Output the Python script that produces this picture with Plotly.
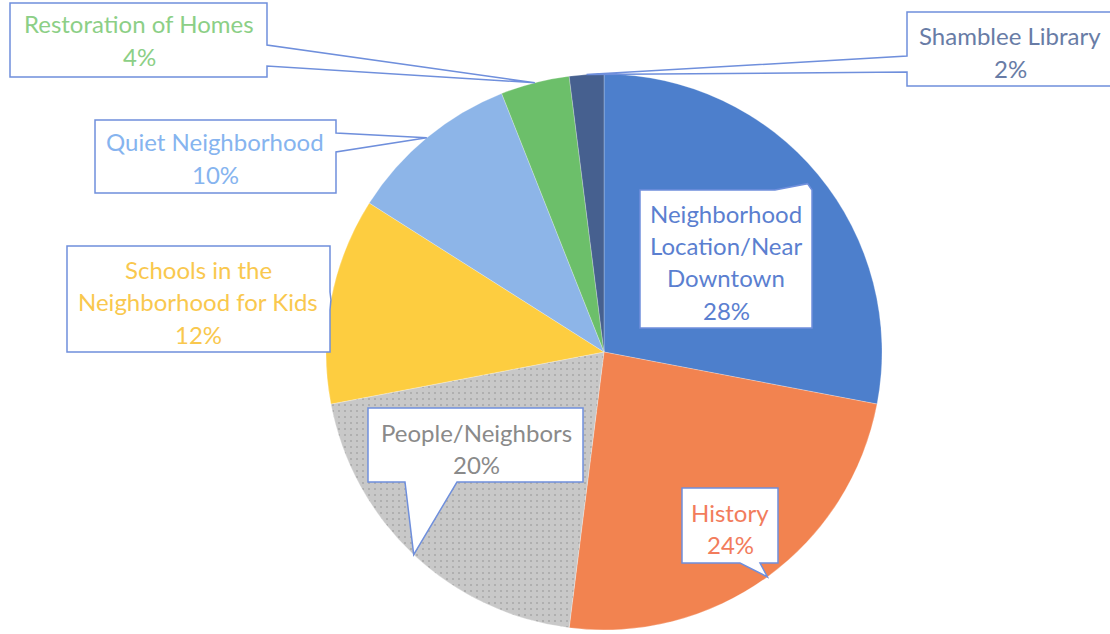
import math
import plotly.graph_objects as go

# ---- data ----
categories = ["Neighborhood Location/Near Downtown", "History", "People/Neighbors",
              "Schools in the Neighborhood for Kids", "Quiet Neighborhood",
              "Restoration of Homes", "Shamblee Library"]
values = [28, 24, 20, 12, 10, 4, 2]
label_lines = [["Neighborhood", "Location/Near", "Downtown"], ["History"], ["People/Neighbors"],
               ["Schools in the", "Neighborhood for Kids"], ["Quiet Neighborhood"],
               ["Restoration of Homes"], ["Shamblee Library"]]
slice_colors = ["#4d7fcc", "#f28350", "#c8c8c8", "#fdcd40", "#8db5e8", "#6cbf6a", "#46608f"]
text_colors = ["#5b7fd0", "#f27c5c", "#8a8a8a", "#f9c84e", "#86b4ef", "#8ccf86", "#687ca6"]

# ---- layout geometry (pixels) ----
W, H = 1110, 634
CX, CY, R = 604, 352, 278
FONT = "Lato"
FS = 24
LINE = 32.5
BORDER = "#6f8fdc"

def px(x):
    return x / W

def py(y):
    return 1 - y / H

# callout: box (x0,y0,x1,y1), text center x, first line y, side of tail, tail base (a,b), tip radius factor
callouts = [
    dict(box=(640, 190, 812, 328), tx=726, ty=213, side="top", base=(775, 812), rf=0.95),
    dict(box=(682, 488, 778, 563), tx=730, ty=512, side="bottom", base=(740, 760), rf=1.0),
    dict(box=(368, 408, 583, 482), tx=476, ty=432, side="bottom", base=(405, 457), rf=1.0),
    dict(box=(67, 246, 330, 352), tx=198, ty=269, side="right", base=(292, 310), rf=1.0),
    dict(box=(95, 120, 336, 193), tx=215, ty=142, side="right", base=(133, 152), rf=1.0),
    dict(box=(10, 3, 267, 77), tx=139, ty=24, side="right", base=(45, 66), rf=1.0),
    dict(box=(907, 12, 1114, 86), tx=1010, ty=36, side="left", base=(56, 72), rf=1.0),
]

fig = go.Figure()
fig.add_trace(go.Pie(
    labels=categories, values=values, sort=False, direction="clockwise", rotation=0,
    textinfo="none", hoverinfo="label+percent", showlegend=False,
    marker=dict(colors=slice_colors, line=dict(color="rgba(255,255,255,0.5)", width=0.5),
                pattern=dict(shape=["", "", ".", "", "", "", ""], fgcolor="#a9a9a9",
                             bgcolor=slice_colors, size=6, solidity=0.1)),
    domain=dict(x=[px(CX - R), px(CX + R)], y=[py(CY + R), py(CY - R)]),
))

total = sum(values)
shapes = []
annotations = []
cum = 0
for i, v in enumerate(values):
    mid = (cum + v / 2) / total * 2 * math.pi
    cum += v
    c = callouts[i]
    tipx = CX + R * c["rf"] * math.sin(mid)
    tipy = CY - R * c["rf"] * math.cos(mid)
    x0, y0, x1, y1 = c["box"]
    a, b = c["base"]
    if c["side"] == "right":
        pts = [(x0, y0), (x1, y0), (x1, a), (tipx, tipy), (x1, b), (x1, y1), (x0, y1)]
    elif c["side"] == "left":
        pts = [(x0, y0), (x1, y0), (x1, y1), (x0, y1), (x0, b), (tipx, tipy), (x0, a)]
    elif c["side"] == "top":
        pts = [(x0, y0), (a, y0), (tipx, tipy), (b, y0), (x1, y0), (x1, y1), (x0, y1)]
    else:
        pts = [(x0, y0), (x1, y0), (x1, y1), (b, y1), (tipx, tipy), (a, y1), (x0, y1)]
    path = "M " + " L ".join(f"{px(x):.5f},{py(y):.5f}" for x, y in pts) + " Z"
    shapes.append(dict(type="path", xref="paper", yref="paper", path=path,
                       fillcolor="white", line=dict(color=BORDER, width=1.5), layer="above"))
    lines = label_lines[i] + [f"{v}%"]
    for k, t in enumerate(lines):
        annotations.append(dict(x=px(c["tx"]), y=py(c["ty"] + k * LINE), xref="paper", yref="paper",
                                text=t, showarrow=False, xanchor="center", yanchor="middle",
                                font=dict(family=FONT, size=FS, color=text_colors[i])))

fig.update_layout(
    width=W, height=H, margin=dict(l=0, r=0, t=0, b=0),
    paper_bgcolor="white", plot_bgcolor="white",
    shapes=shapes, annotations=annotations,
)
fig.write_html("out.html", config={"displayModeBar": False},
               post_script="document.body.style.margin='0';")
